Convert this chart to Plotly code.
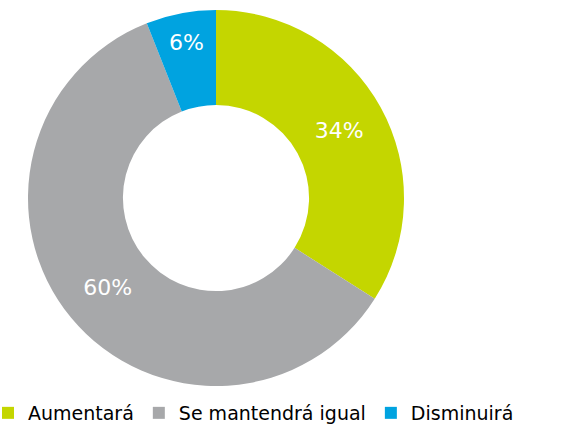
import plotly.graph_objects as go

categories = ["Aumentará", "Se mantendrá igual", "Disminuirá"]
values = [34, 60, 6]
colors = ["#C4D600", "#A7A8AA", "#00A3E0"]

W, H = 579, 428
cx, cy, r = 216, 198, 188
MB = 42
PH = H - MB  # plot area height

fig = go.Figure(go.Pie(
    labels=categories,
    values=values,
    hole=0.495,
    sort=False,
    direction="clockwise",
    rotation=0,
    marker=dict(colors=colors, line=dict(width=0)),
    textinfo="percent",
    texttemplate="%{percent:.0%}",
    textposition="inside",
    insidetextorientation="horizontal",
    textfont=dict(color="white", size=22, family="DejaVu Sans"),
    domain=dict(x=[(cx - r) / W, (cx + r) / W],
                y=[max(0, (PH - (cy + r)) / PH), (PH - (cy - r)) / PH]),
    hoverinfo="label+percent",
))

fig.update_layout(
    width=W, height=H,
    margin=dict(l=0, r=0, t=0, b=MB, autoexpand=False),
    paper_bgcolor="white",
    plot_bgcolor="white",
    font=dict(family="DejaVu Sans", size=19, color="#000000"),
    legend=dict(
        orientation="h",
        x=-12 / W, xanchor="left",
        y=(PH - 413) / PH, yanchor="middle",
        font=dict(size=19, family="DejaVu Sans", color="#000000"),
        tracegroupgap=0,
    ),
    showlegend=True,
)

fig.write_html("out.html", config={"displayModeBar": False},
               post_script="document.body.style.margin='0';document.body.style.overflow='hidden';")
